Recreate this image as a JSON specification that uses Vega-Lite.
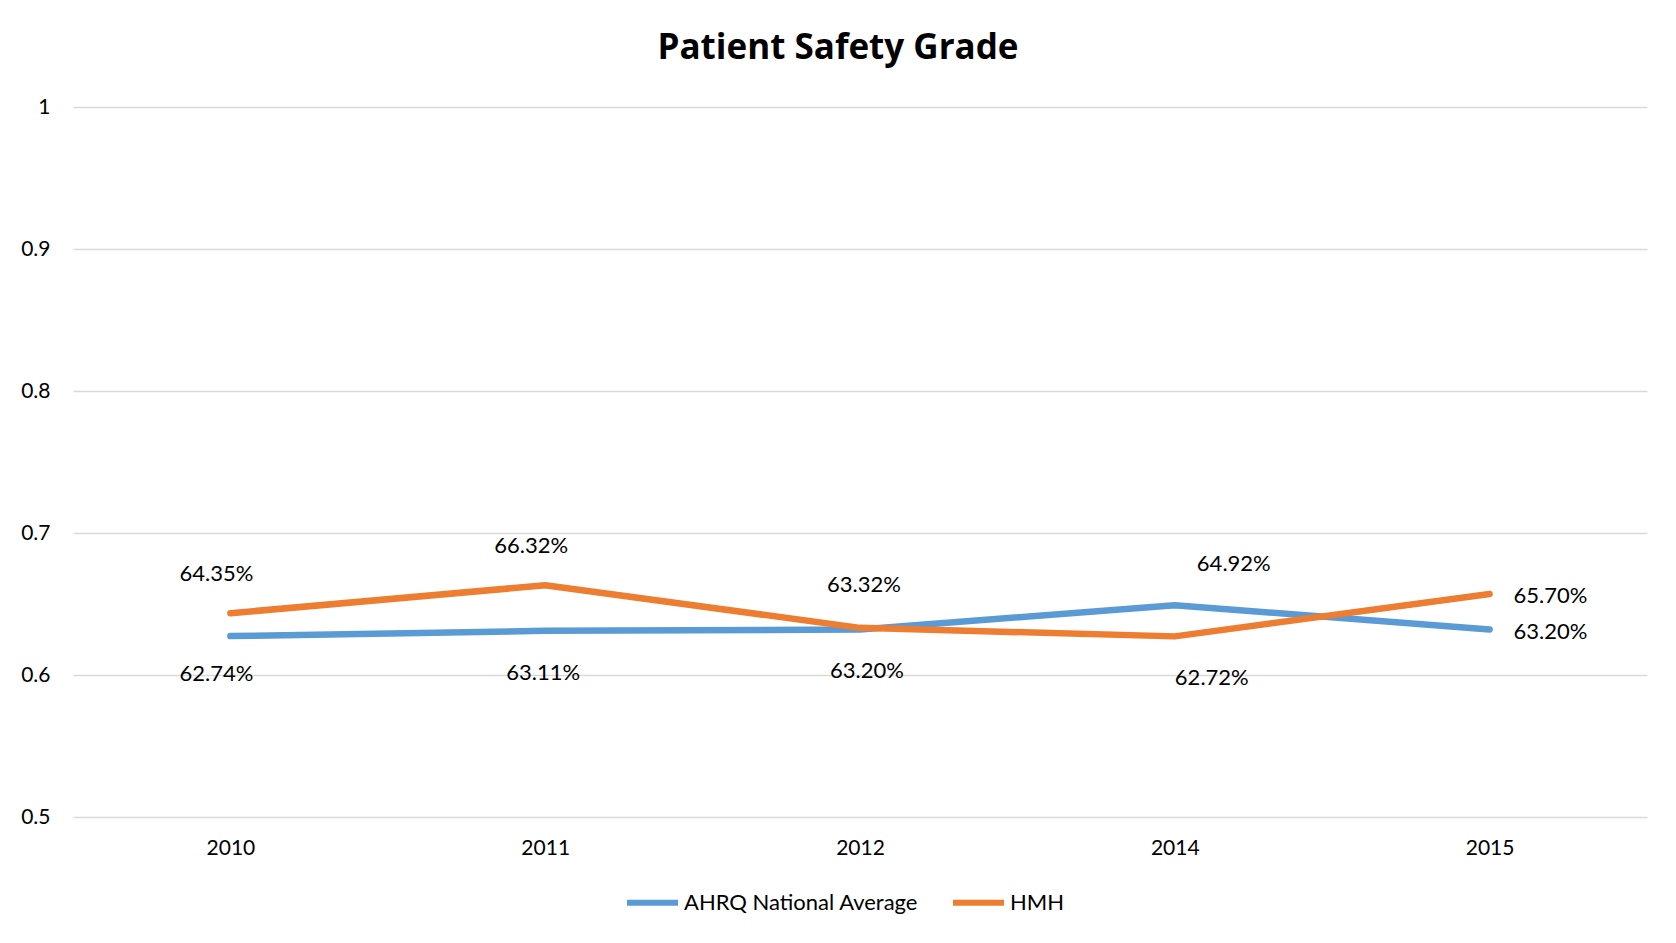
{
  "$schema": "https://vega.github.io/schema/vega-lite/v6.json",
  "autosize": {"type": "none"},
  "width": 1574,
  "height": 710,
  "padding": {"left": 73, "top": 107, "right": 29, "bottom": 126},
  "background": "white",
  "title": {
    "text": "Patient Safety Grade",
    "font": "Open Sans",
    "fontSize": 35,
    "fontWeight": "bold",
    "color": "#000000",
    "anchor": "middle",
    "baseline": "alphabetic",
    "offset": 2,
    "dx": -22
  },
  "data": {
    "values": [
      {"year": "2010", "series": "AHRQ National Average", "value": 0.6274},
      {"year": "2011", "series": "AHRQ National Average", "value": 0.6311},
      {"year": "2012", "series": "AHRQ National Average", "value": 0.6320},
      {"year": "2014", "series": "AHRQ National Average", "value": 0.6492},
      {"year": "2015", "series": "AHRQ National Average", "value": 0.6320},
      {"year": "2010", "series": "HMH", "value": 0.6435},
      {"year": "2011", "series": "HMH", "value": 0.6632},
      {"year": "2012", "series": "HMH", "value": 0.6332},
      {"year": "2014", "series": "HMH", "value": 0.6272},
      {"year": "2015", "series": "HMH", "value": 0.6570}
    ]
  },
  "encoding": {
    "x": {
      "field": "year",
      "type": "ordinal",
      "scale": {"type": "point", "padding": 0.5},
      "axis": {
        "title": null,
        "labelAngle": 0,
        "domain": false,
        "ticks": false,
        "grid": false,
        "labelFont": "Lato",
        "labelFontSize": 21,
        "labelColor": "#000000",
        "labelPadding": 20
      }
    },
    "y": {
      "field": "value",
      "type": "quantitative",
      "scale": {"domain": [0.5, 1], "nice": false, "zero": false},
      "axis": {
        "title": null,
        "values": [0.5, 0.6, 0.7, 0.8, 0.9, 1],
        "format": "~g",
        "domain": false,
        "ticks": false,
        "grid": true,
        "gridColor": "#D9D9D9",
        "gridWidth": 1.5,
        "labelFont": "Lato",
        "labelFontSize": 21,
        "labelColor": "#000000",
        "labelPadding": 23
      }
    }
  },
  "layer": [
    {
      "mark": {"type": "line", "strokeWidth": 6.5, "strokeCap": "round", "strokeJoin": "round"},
      "encoding": {
        "color": {
          "field": "series",
          "type": "nominal",
          "scale": {"domain": ["AHRQ National Average", "HMH"], "range": ["#5B9BD5", "#ED7D31"]},
          "legend": {
            "title": null,
            "orient": "none",
            "direction": "horizontal",
            "legendX": 551,
            "legendY": 767,
            "symbolType": "stroke",
            "symbolSize": 2601,
            "symbolStrokeWidth": 6,
            "labelFont": "Lato",
            "labelFontSize": 22,
            "labelColor": "#000000",
            "labelOffset": 3,
            "labelLimit": 0,
            "columnPadding": 22
          }
        }
      }
    },
    {
      "transform": [{"filter": "datum.series == 'HMH' && (datum.year == '2010' || datum.year == '2011')"}],
      "mark": {"type": "text", "font": "Lato", "fontSize": 22, "color": "#000000", "dy": -39, "dx": -14},
      "encoding": {"text": {"field": "value", "type": "quantitative", "format": ".2%"}}
    },
    {
      "transform": [{"filter": "datum.series == 'HMH' && datum.year == '2012'"}],
      "mark": {"type": "text", "font": "Lato", "fontSize": 22, "color": "#000000", "dy": -43, "dx": 4},
      "encoding": {"text": {"field": "value", "type": "quantitative", "format": ".2%"}}
    },
    {
      "transform": [{"filter": "datum.series == 'AHRQ National Average' && datum.year == '2010'"}],
      "mark": {"type": "text", "font": "Lato", "fontSize": 22, "color": "#000000", "dy": 38, "dx": -14},
      "encoding": {"text": {"field": "value", "type": "quantitative", "format": ".2%"}}
    },
    {
      "transform": [{"filter": "datum.series == 'AHRQ National Average' && datum.year == '2011'"}],
      "mark": {"type": "text", "font": "Lato", "fontSize": 22, "color": "#000000", "dy": 42, "dx": -2},
      "encoding": {"text": {"field": "value", "type": "quantitative", "format": ".2%"}}
    },
    {
      "transform": [{"filter": "datum.series == 'AHRQ National Average' && datum.year == '2012'"}],
      "mark": {"type": "text", "font": "Lato", "fontSize": 22, "color": "#000000", "dy": 41, "dx": 7},
      "encoding": {"text": {"field": "value", "type": "quantitative", "format": ".2%"}}
    },
    {
      "transform": [{"filter": "datum.series == 'AHRQ National Average' && datum.year == '2014'"}],
      "mark": {"type": "text", "font": "Lato", "fontSize": 22, "color": "#000000", "dy": -41, "dx": 59},
      "encoding": {"text": {"field": "value", "type": "quantitative", "format": ".2%"}}
    },
    {
      "transform": [{"filter": "datum.series == 'HMH' && datum.year == '2014'"}],
      "mark": {"type": "text", "font": "Lato", "fontSize": 22, "color": "#000000", "dy": 42, "dx": 37},
      "encoding": {"text": {"field": "value", "type": "quantitative", "format": ".2%"}}
    },
    {
      "transform": [{"filter": "datum.year == '2015'"}],
      "mark": {"type": "text", "font": "Lato", "fontSize": 22, "color": "#000000", "align": "left", "dx": 24, "dy": 2},
      "encoding": {"text": {"field": "value", "type": "quantitative", "format": ".2%"}}
    }
  ],
  "config": {"view": {"stroke": null}}
}
